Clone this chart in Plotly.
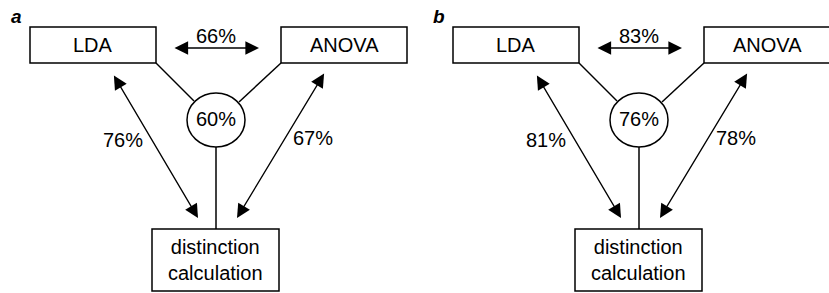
import plotly.graph_objects as go

# Data
panels = ["a", "b"]
lda_anova = [66, 83]
all_three = [60, 76]
lda_dist = [76, 81]
anova_dist = [67, 78]
box_labels = ["LDA", "ANOVA", "distinction<br>calculation"]

W, H = 829, 293
FONT = dict(family="Liberation Sans, Arial, sans-serif", size=20, color="black")
offsets = [0, 423]

fig = go.Figure()
shapes = []
annotations = []
LW = 1.5

for i, off in enumerate(offsets):
    # boxes
    shapes.append(dict(type="rect", x0=30+off, x1=156+off, y0=27, y1=63,
                       line=dict(color="black", width=LW)))
    shapes.append(dict(type="rect", x0=281+off, x1=407+off, y0=27, y1=63,
                       line=dict(color="black", width=LW)))
    shapes.append(dict(type="rect", x0=152+off, x1=279+off, y0=229, y1=291,
                       line=dict(color="black", width=LW)))
    # circle
    shapes.append(dict(type="circle", x0=187+off, x1=245+off, y0=93, y1=147,
                       line=dict(color="black", width=LW)))
    # connector lines
    shapes.append(dict(type="line", x0=156+off, y0=63, x1=194+off, y1=101,
                       line=dict(color="black", width=LW)))
    shapes.append(dict(type="line", x0=281+off, y0=63, x1=239+off, y1=102,
                       line=dict(color="black", width=LW)))
    shapes.append(dict(type="line", x0=216+off, y0=147, x1=216+off, y1=229,
                       line=dict(color="black", width=LW)))

    # box texts
    annotations.append(dict(x=93+off, y=45, text=box_labels[0], showarrow=False, font=FONT))
    annotations.append(dict(x=344+off, y=45, text=box_labels[1], showarrow=False, font=FONT))
    annotations.append(dict(x=215.5+off, y=260, text=box_labels[2], showarrow=False,
                            font=FONT))
    # panel letter
    annotations.append(dict(x=16+off, y=16, text=f"<b><i>{panels[i]}</i></b>", showarrow=False,
                            font=dict(family="Liberation Sans, Arial, sans-serif", size=19, color="black")))
    # percentages
    annotations.append(dict(x=216+off, y=36, text=f"{lda_anova[i]}%", showarrow=False, font=FONT))
    annotations.append(dict(x=216+off, y=119, text=f"{all_three[i]}%", showarrow=False, font=FONT))
    annotations.append(dict(x=123+off, y=140, text=f"{lda_dist[i]}%", showarrow=False, font=FONT))
    annotations.append(dict(x=313+off, y=138, text=f"{anova_dist[i]}%", showarrow=False, font=FONT))

    # double arrows
    for (x0, y0, x1, y1) in [(173, 48, 259, 48), (113, 74, 198, 218), (325, 72, 237, 218)]:
        annotations.append(dict(x=x1+off, y=y1, ax=x0+off, ay=y0, xref="x", yref="y",
                                axref="x", ayref="y", text="", showarrow=True,
                                arrowhead=2, startarrowhead=2, arrowside="end+start",
                                arrowsize=2.1, startarrowsize=2.1, arrowwidth=1.3,
                                arrowcolor="black", standoff=0, startstandoff=0))

fig.update_layout(
    width=W, height=H,
    margin=dict(l=0, r=0, t=0, b=0),
    paper_bgcolor="white", plot_bgcolor="white",
    xaxis=dict(range=[0, W], visible=False, fixedrange=True),
    yaxis=dict(range=[H, 0], visible=False, fixedrange=True),
    shapes=shapes, annotations=annotations, showlegend=False,
)

fig.write_html("out.html", config={"displayModeBar": False},
               post_script="document.body.style.margin='0';document.body.style.overflow='hidden';")
